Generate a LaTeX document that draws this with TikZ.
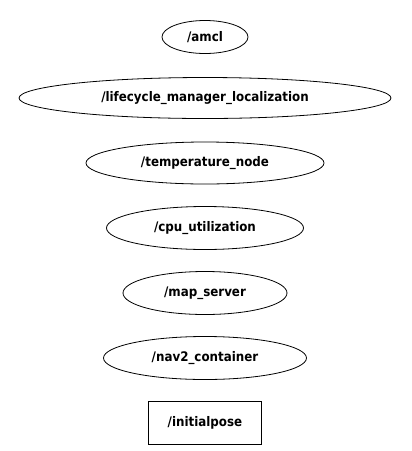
\documentclass[tikz,border=0pt]{standalone}
\usepackage{fontspec}
\setmainfont{DejaVu Sans Condensed}
\usepackage{tikz}
\usetikzlibrary{shapes,arrows}
\usetikzlibrary{positioning}
\tikzstyle{rosnode} = [draw, ellipse, inner sep=0pt, line width=0.8pt,
    minimum height=43pt, font=\fontsize{13.2}{15}\selectfont\bfseries]
\tikzstyle{rostopic} = [draw, rectangle, inner sep=0pt, line width=0.8pt,
    minimum height=43pt, font=\fontsize{13.2}{15}\selectfont\bfseries]

\begin{document}
\begin{tikzpicture}[node distance = 65pt, auto]
  \useasboundingbox (0pt,0pt) rectangle (412pt,-451pt);
  \node [rosnode, minimum width=86pt, minimum height=33pt] (amcl) at (205pt,-37pt) {/amcl};
  \node [rosnode, node distance = 61pt, below of=amcl, minimum width=372pt, minimum height=41pt] (lcm) {/lifecycle\_manager\_localization};
  \node [rosnode, below of=lcm, minimum width=238pt, minimum height=42pt] (temp) {/temperature\_node};
  \node [rosnode, below of=temp, minimum width=197pt] (cpu) {/cpu\_utilization};
  \node [rosnode, below of=cpu, minimum width=164pt] (map) {/map\_server};
  \node [rosnode, below of=map, minimum width=203pt] (nav2) {/nav2\_container};
  \node [rostopic, below of=nav2, minimum width=113pt] (pose) {/initialpose};
\end{tikzpicture}
\end{document}
